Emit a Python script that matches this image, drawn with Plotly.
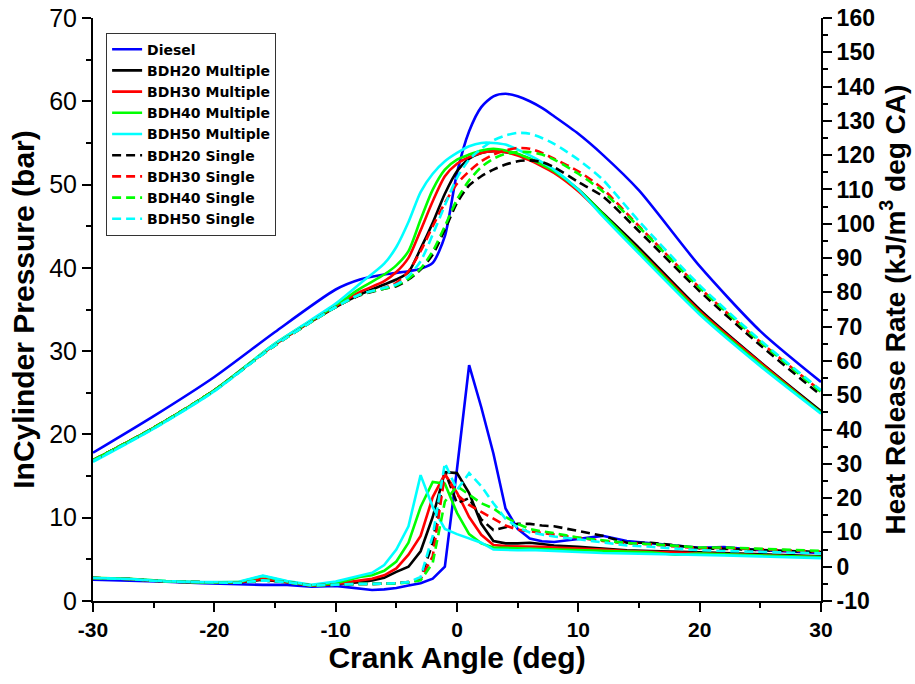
import plotly.graph_objects as go

# Crank angle grids (deg)
ca_p = [-30, -25, -20, -15, -10, -8, -6, -5, -4, -3, -2, -1, 0, 1, 2, 3, 4, 5, 6, 7, 8, 10, 12, 15, 20, 25, 30]
ca_h = [-30, -27, -24, -21, -18, -16, -14, -12, -10, -8, -7, -6, -5, -4, -3, -2, -1, 0, 1, 2, 3, 4, 5, 6, 7, 8,
        10, 12, 14, 16, 18, 20, 22, 25, 28, 30]

series_names = ["Diesel", "BDH20 Multiple", "BDH30 Multiple", "BDH40 Multiple", "BDH50 Multiple",
                "BDH20 Single", "BDH30 Single", "BDH40 Single", "BDH50 Single"]

# Tick labels
x_ticks = [-30, -20, -10, 0, 10, 20, 30]
x_ticklabels = ["-30", "-20", "-10", "0", "10", "20", "30"]
y_ticks = [0, 10, 20, 30, 40, 50, 60, 70]
y_ticklabels = ["0", "10", "20", "30", "40", "50", "60", "70"]
y2_ticks = [-10, 0, 10, 20, 30, 40, 50, 60, 70, 80, 90, 100, 110, 120, 130, 140, 150, 160]
y2_ticklabels = ["-10", "0", "10", "20", "30", "40", "50", "60", "70", "80", "90", "100", "110", "120",
                 "130", "140", "150", "160"]

# In-cylinder pressure (bar)
diesel_p = [17.8, 22.2, 26.9, 32.3, 37.4, 38.6, 39.2, 39.4, 39.6, 39.9, 40.6, 43.8, 51.4, 56.4, 59.3, 60.6, 60.9, 60.6, 60.0, 59.2, 58.2, 56.1, 53.6, 49.3, 40.2, 32.4, 26.3]
bdh20m_p = [16.9, 20.8, 25.3, 30.8, 35.3, 36.8, 38.0, 38.6, 39.5, 42.3, 45.4, 48.9, 51.6, 53.1, 53.8, 54.0, 53.9, 53.6, 53.1, 52.4, 51.6, 49.4, 46.6, 42.4, 35.0, 28.7, 22.8]
bdh30m_p = [16.9, 20.8, 25.3, 30.8, 35.4, 37.1, 38.4, 39.5, 41.2, 44.5, 48.0, 51.0, 52.5, 53.3, 53.8, 54.0, 53.9, 53.5, 52.9, 52.2, 51.4, 49.2, 46.4, 42.1, 34.8, 28.6, 22.6]
bdh40m_p = [16.9, 20.8, 25.3, 30.9, 35.5, 37.5, 39.2, 40.3, 42.0, 45.8, 49.4, 51.8, 53.0, 53.6, 54.1, 54.3, 54.1, 53.7, 53.1, 52.4, 51.6, 49.4, 46.5, 42.0, 34.6, 28.4, 22.6]
bdh50m_p = [16.7, 20.7, 25.2, 30.9, 35.7, 38.1, 40.5, 42.5, 45.5, 49.1, 51.3, 52.8, 53.8, 54.6, 55.0, 55.0, 54.8, 54.2, 53.5, 52.7, 51.8, 49.4, 46.2, 41.7, 34.4, 28.2, 22.5]
bdh20s_p = [16.9, 20.8, 25.3, 30.7, 35.3, 36.7, 37.5, 37.8, 38.6, 39.8, 41.6, 44.6, 47.8, 49.9, 51.0, 51.8, 52.4, 52.8, 52.9, 52.7, 52.1, 50.3, 48.6, 44.4, 37.2, 30.7, 24.7]
bdh30s_p = [16.9, 20.8, 25.3, 30.7, 35.3, 36.8, 37.6, 38.2, 39.6, 42.0, 45.0, 47.8, 50.1, 51.6, 52.8, 53.6, 54.1, 54.4, 54.3, 53.8, 53.1, 51.6, 49.5, 45.0, 37.6, 31.1, 25.2]
bdh40s_p = [16.9, 20.8, 25.3, 30.7, 35.3, 36.8, 37.5, 37.9, 38.7, 39.9, 42.0, 45.0, 48.2, 50.5, 52.1, 53.1, 53.7, 53.9, 53.9, 53.6, 53.0, 51.3, 49.2, 44.9, 37.6, 31.1, 25.1]
bdh50s_p = [16.8, 20.7, 25.2, 30.7, 35.3, 36.8, 37.6, 38.0, 39.0, 40.8, 44.0, 47.5, 50.8, 53.0, 54.3, 55.3, 55.9, 56.2, 56.1, 55.6, 54.9, 53.0, 50.6, 45.6, 37.9, 31.3, 25.3]

# Heat release rate (kJ/m3 deg CA)
diesel_h = [-3.8, -4.0, -4.4, -4.8, -5.2, -5.3, -5.3, -5.8, -5.6, -6.5, -6.8, -6.6, -6.2, -5.5, -4.8, -3.5, 0.0, 28.5, 58.8, 46.5, 33.0, 17.0, 11.0, 8.2, 7.4, 7.2, 8.0, 9.0, 7.5, 6.8, 6.3, 5.5, 5.7, 4.8, 4.3, 4.0]
bdh20m_h = [-3.3, -3.6, -4.3, -4.6, -4.6, -3.8, -4.5, -5.5, -5.0, -4.5, -4.0, -3.2, -1.5, 0.0, 4.5, 14.5, 27.6, 27.3, 21.5, 12.5, 7.5, 6.8, 6.8, 7.0, 6.6, 6.2, 5.8, 5.2, 4.8, 4.6, 4.5, 4.2, 4.0, 3.6, 3.2, 3.0]
bdh30m_h = [-3.3, -3.6, -4.3, -4.6, -4.6, -3.5, -4.5, -5.5, -5.0, -4.0, -3.5, -2.5, -0.5, 3.5, 9.0, 20.3, 27.0, 21.6, 14.5, 9.3, 6.3, 6.0, 6.0, 6.0, 5.8, 5.6, 5.4, 5.0, 4.6, 4.4, 4.2, 4.0, 3.8, 3.4, 3.0, 2.8]
bdh40m_h = [-3.2, -3.5, -4.2, -4.6, -4.5, -2.7, -4.3, -5.4, -4.8, -3.0, -2.5, -1.2, 1.5, 7.0, 17.4, 24.7, 24.2, 15.7, 9.5, 6.8, 5.6, 5.5, 5.5, 5.4, 5.3, 5.2, 5.0, 4.8, 4.5, 4.2, 3.5, 3.8, 3.6, 3.3, 3.0, 2.8]
bdh50m_h = [-3.3, -3.6, -4.2, -4.5, -4.4, -2.6, -4.2, -5.3, -4.3, -2.5, -1.8, 0.5, 5.0, 11.8, 26.7, 17.4, 11.0, 9.5, 8.3, 7.0, 5.0, 4.8, 4.8, 4.9, 4.8, 4.7, 4.3, 4.0, 3.9, 3.8, 3.6, 3.5, 3.3, 3.0, 2.7, 2.5]
bdh20s_h = [-3.3, -3.6, -4.3, -4.6, -4.7, -4.0, -4.5, -5.5, -5.2, -5.0, -5.0, -5.0, -4.8, -4.5, -3.5, 7.0, 27.8, 18.5, 20.0, 13.8, 10.7, 11.5, 12.5, 12.5, 12.0, 11.8, 10.5, 9.0, 7.0, 7.0, 6.2, 5.4, 5.2, 4.8, 4.5, 4.3]
bdh30s_h = [-3.3, -3.6, -4.3, -4.6, -4.7, -4.0, -4.5, -5.5, -5.2, -5.0, -5.0, -5.0, -4.8, -4.5, -3.5, 3.0, 27.0, 21.0, 18.0, 16.0, 14.0, 12.0, 10.8, 10.3, 10.0, 9.5, 8.5, 7.5, 6.8, 6.5, 5.9, 5.4, 5.5, 5.1, 4.6, 4.4]
bdh40s_h = [-3.3, -3.6, -4.3, -4.6, -4.7, -4.0, -4.5, -5.5, -5.2, -5.0, -5.0, -5.0, -4.9, -4.6, -4.0, 1.1, 19.0, 23.5, 21.0, 18.5, 17.0, 14.5, 12.5, 11.0, 10.3, 9.8, 8.5, 7.6, 6.9, 6.6, 6.0, 5.6, 5.6, 5.2, 4.8, 4.6]
bdh50s_h = [-3.3, -3.6, -4.3, -4.6, -4.7, -4.0, -4.5, -5.5, -5.2, -5.0, -5.0, -5.0, -4.8, -4.5, -3.0, 9.0, 30.2, 22.4, 27.3, 23.5, 18.5, 14.0, 11.5, 10.0, 9.3, 8.8, 8.0, 7.2, 6.2, 5.8, 5.3, 4.8, 4.6, 4.3, 4.0, 3.9]

pressures = [diesel_p, bdh20m_p, bdh30m_p, bdh40m_p, bdh50m_p, bdh20s_p, bdh30s_p, bdh40s_p, bdh50s_p]
hrrs = [diesel_h, bdh20m_h, bdh30m_h, bdh40m_h, bdh50m_h, bdh20s_h, bdh30s_h, bdh40s_h, bdh50s_h]
colors = ["#0000FF", "#000000", "#FF0000", "#00FF00", "#00FFFF", "#000000", "#FF0000", "#00FF00", "#00FFFF"]
dashes = ["solid"] * 5 + ["9px,5px"] * 4

FONT = "Liberation Sans, Arial, sans-serif"
LEGFONT = "DejaVu Sans, Liberation Sans, sans-serif"

fig = go.Figure()
for name, p, h, c, d in zip(series_names, pressures, hrrs, colors, dashes):
    fig.add_trace(go.Scatter(x=ca_p, y=p, name=name, mode="lines", legendgroup=name,
                             line=dict(color=c, width=2.6, dash=d, shape="spline", smoothing=0.7),
                             yaxis="y"))
    fig.add_trace(go.Scatter(x=ca_h, y=h, name=name, mode="lines", legendgroup=name, showlegend=False,
                             line=dict(color=c, width=2.6, dash=d), yaxis="y2"))

axis_common = dict(showline=True, linecolor="black", linewidth=2, ticks="outside", ticklen=9,
                   tickwidth=2, tickcolor="black", showgrid=False, zeroline=False, automargin=False,
                   tickmode="array", ticklabeloverflow="allow")
minor_common = dict(dtick=5, ticks="outside", ticklen=5, tickwidth=2, tickcolor="black")

fig.update_layout(
    width=915, height=684,
    margin=dict(l=93, r=94, t=18, b=83),
    plot_bgcolor="white", paper_bgcolor="white",
    font=dict(family=FONT, color="black"),
    legend=dict(x=0.018, y=0.975, xanchor="left", yanchor="top", bordercolor="#333", borderwidth=1,
                bgcolor="white", font=dict(size=14, weight="bold", family=LEGFONT), tracegroupgap=0),
    xaxis=dict(range=[-30, 30], tickvals=x_ticks, ticktext=x_ticklabels,
               minor=dict(tick0=-30, **minor_common),
               tickfont=dict(size=21, weight="bold", family=FONT),
               title=dict(text="Crank Angle (deg)", font=dict(size=30, weight="bold", family=FONT), standoff=6),
               **axis_common),
    yaxis=dict(range=[0, 70], tickvals=y_ticks, ticktext=y_ticklabels,
               minor=dict(tick0=0, **minor_common),
               tickfont=dict(size=25, family=FONT),
               title=dict(text="InCylinder Pressure (bar)", font=dict(size=30, weight="bold", family=FONT), standoff=6),
               **axis_common),
    yaxis2=dict(range=[-10, 160], tickvals=y2_ticks, ticktext=y2_ticklabels, overlaying="y", side="right",
                minor=dict(tick0=0, **minor_common),
                tickfont=dict(size=23, weight="bold", family=FONT),
                title=dict(text="Heat Release Rate (kJ/m<sup>3</sup> deg CA)", font=dict(size=28, weight="bold", family=FONT), standoff=3),
                **axis_common),
)

# remove the default page margin so the figure fills the window exactly
fig.write_html("out.html", config={"displayModeBar": False},
               post_script="document.body.style.margin='0px';")
